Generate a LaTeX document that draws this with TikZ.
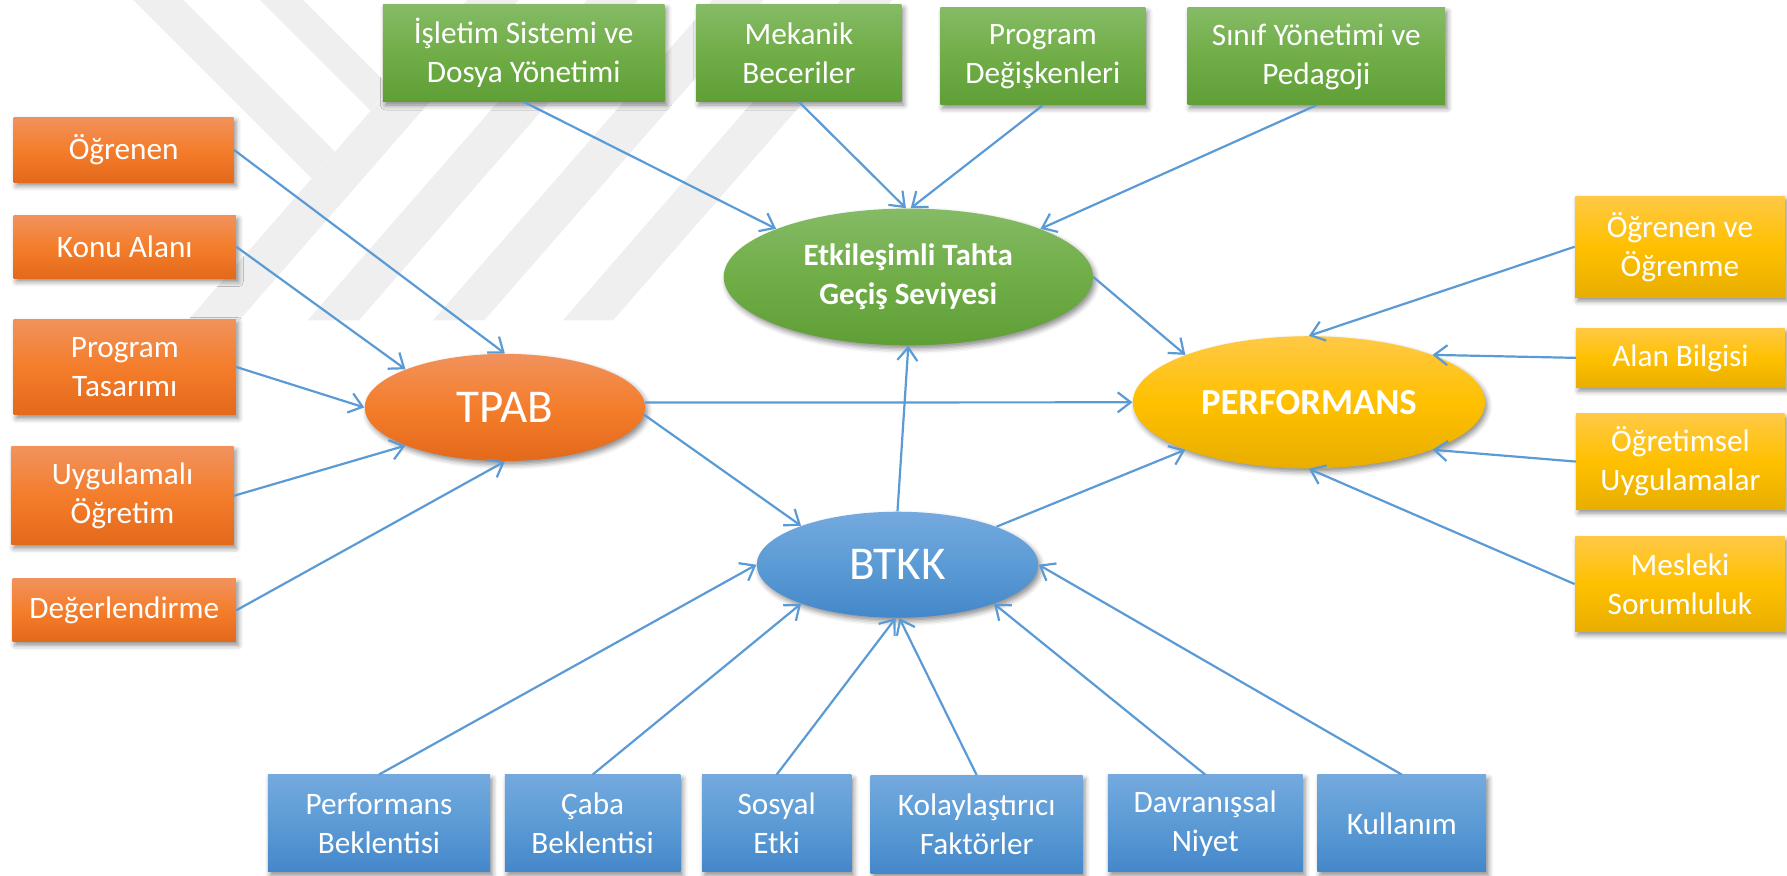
\documentclass[tikz,border=0pt]{standalone}
\usepackage{fontspec}
\setmainfont{Carlito}
\usetikzlibrary{shapes.geometric,arrows.meta,shadows.blur}

% box and ellipse fills (light top, saturated middle, darker bottom)
\definecolor{orA}{HTML}{F1925C}
\definecolor{orB}{HTML}{F47D2B}
\definecolor{orC}{HTML}{E3691B}
\definecolor{grA}{HTML}{85BB66}
\definecolor{grB}{HTML}{70AD47}
\definecolor{grC}{HTML}{5F9F36}
\definecolor{blA}{HTML}{74A9DE}
\definecolor{blB}{HTML}{5B9BD5}
\definecolor{blC}{HTML}{4487CA}
\definecolor{yeA}{HTML}{FFC945}
\definecolor{yeB}{HTML}{FFC000}
\definecolor{yeC}{HTML}{E8AE00}
\definecolor{linkblue}{HTML}{5B9BD5}
\definecolor{stripegray}{HTML}{EFEFEF}

\tikzset{
  softshadow/.style={blur shadow={shadow xshift=1.2pt, shadow yshift=-1.8pt,
      shadow blur radius=2.5pt, shadow opacity=45}},
  box/.style={rectangle, inner sep=2pt, align=center, text=white,
      font=\fontsize{15.6}{19.5}\selectfont, softshadow},
  obox/.style={box, top color=orA, bottom color=orC, middle color=orB},
  gbox/.style={box, top color=grA, bottom color=grC, middle color=grB},
  bbox/.style={box, top color=blA, bottom color=blC, middle color=blB},
  ybox/.style={box, top color=yeA, bottom color=yeC, middle color=yeB},
  hub/.style={ellipse, inner sep=0pt, align=center, text=white, softshadow},
  link/.style={draw=linkblue, line width=1.1pt,
      -{Straight Barb[length=6.5pt,width=10pt]}},
  stripe/.style={fill=stripegray},
}

\begin{document}
\begin{tikzpicture}[x=0.02cm, y=-0.02cm]
\useasboundingbox (0,0) rectangle (1568,768);

% faint background logo stripes
\fill[stripe] (165,281) -- (210,281) -- (455,0) -- (410,0) -- cycle;
\fill[stripe] (270,281) -- (315,281) -- (560,0) -- (515,0) -- cycle;
\fill[stripe] (380,281) -- (425,281) -- (670,0) -- (625,0) -- cycle;
\fill[stripe] (494,281) -- (538,281) -- (783,0) -- (738,0) -- cycle;
\fill[stripe] (117,0) -- (161,0) -- (293.9,132.9) -- (273.4,156.4) -- cycle;
\fill[stripe] (228,0) -- (266,0) -- (342.7,76.7) -- (325,97) -- cycle;

% left column
\node[obox, minimum width=3.86cm, minimum height=1.14cm] (ogr)  at (108.5,131.5) {Öğrenen};
\node[obox, minimum width=3.90cm, minimum height=1.10cm] (konu) at (109.5,216.5) {Konu Alanı};
\node[obox, minimum width=3.90cm, minimum height=1.68cm] (prog) at (109.5,322) {Program\\Tasarımı};
\node[obox, minimum width=3.90cm, minimum height=1.72cm] (uyg)  at (107.5,435) {Uygulamalı\\Öğretim};
\node[obox, minimum width=3.92cm, minimum height=1.10cm] (deg)  at (109,535.5) {Değerlendirme};

% top row
\node[gbox, minimum width=4.94cm, minimum height=1.70cm] (isl)   at (459.5,46.5) {İşletim Sistemi ve\\Dosya Yönetimi};
\node[gbox, minimum width=3.60cm, minimum height=1.70cm] (mek)   at (701,46.5) {Mekanik\\Beceriler};
\node[gbox, minimum width=3.60cm, minimum height=1.70cm] (pdeg)  at (915,49.5) {Program\\Değişkenleri};
\node[gbox, minimum width=4.52cm, minimum height=1.70cm] (sinif) at (1155,49.5) {Sınıf Yönetimi ve\\Pedagoji};

% right column
\node[ybox, minimum width=3.68cm, minimum height=1.78cm] (ogrv) at (1474,216.5) {Öğrenen ve\\Öğrenme};
\node[ybox, minimum width=3.66cm, minimum height=1.04cm] (alan) at (1474.5,314) {Alan Bilgisi};
\node[ybox, minimum width=3.66cm, minimum height=1.68cm] (ogrt) at (1474.5,405) {Öğretimsel\\Uygulamalar};
\node[ybox, minimum width=3.68cm, minimum height=1.66cm] (mes)  at (1474,512.5) {Mesleki\\Sorumluluk};

% bottom row
\node[bbox, minimum width=3.90cm, minimum height=1.70cm] (perfb)  at (332.5,722.5) {Performans\\Beklentisi};
\node[bbox, minimum width=3.08cm, minimum height=1.70cm] (caba)   at (520,722.5) {Çaba\\Beklentisi};
\node[bbox, minimum width=2.62cm, minimum height=1.70cm] (sosyal) at (681.5,722.5) {Sosyal\\Etki};
\node[bbox, minimum width=3.72cm, minimum height=1.72cm] (kolay)  at (857,723.5) {Kolaylaştırıcı\\Faktörler};
\node[bbox, minimum width=3.42cm, minimum height=1.70cm] (davr)   at (1057.5,722.5) {Davranışsal\\Niyet};
\node[bbox, minimum width=2.96cm, minimum height=1.70cm] (kull)   at (1230,722.5) {Kullanım};

% central constructs
\node[hub, top color=grA, bottom color=grC, middle color=grB,
      minimum width=6.48cm, minimum height=2.40cm,
      font=\bfseries\fontsize{15.5}{19.5}\selectfont] (etk) at (797,243) {Etkileşimli Tahta\\Geçiş Seviyesi};
\node[hub, top color=orA, bottom color=orC, middle color=orB,
      minimum width=4.92cm, minimum height=1.88cm,
      font=\fontsize{23.5}{26}\selectfont] (tpab) at (443,357.5) {TPAB};
\node[hub, top color=yeA, bottom color=yeC, middle color=yeB,
      minimum width=6.18cm, minimum height=2.32cm,
      font=\bfseries\fontsize{18.3}{21}\selectfont] (perf) at (1148.5,353) {PERFORMANS};
\node[hub, top color=blA, bottom color=blC, middle color=blB,
      minimum width=4.94cm, minimum height=1.86cm,
      font=\fontsize{23.5}{26}\selectfont] (btkk) at (787.5,495.5) {BTKK};

% inputs to TPAB
\draw[link] (ogr.east)  -- (tpab.north);
\draw[link] (konu.east) -- (tpab.159);
\draw[link] (prog.east) -- (tpab.west);
\draw[link] (uyg.east)  -- (tpab.201);
\draw[link] (deg.east)  -- (tpab.south);

% links between the constructs
\draw[link] (tpab.2)     -- (perf.west);
\draw[link] (tpab.-3)    -- (btkk.158);
\draw[link] (btkk.north) -- (etk.south);
\draw[link] (btkk.21)    -- (perf.201);
\draw[link] (etk.east)   -- (perf.159);

% inputs to the transition level
\draw[link] (isl.south)   -- (etk.160);
\draw[link] (mek.south)   -- (etk.92);
\draw[link] (pdeg.south)  -- (etk.88);
\draw[link] (sinif.south) -- (etk.20);

% inputs to PERFORMANS
\draw[link] (ogrv.west) -- (perf.north);
\draw[link] (alan.west) -- (perf.21);
\draw[link] (ogrt.west) -- (perf.339);
\draw[link] (mes.west)  -- (perf.south);

% inputs to BTKK
\draw[link] (perfb.north)  -- (btkk.west);
\draw[link] (caba.north)   -- (btkk.202);
\draw[link] (sosyal.north) -- (btkk.268);
\draw[link] (kolay.north)  -- (btkk.272);
\draw[link] (davr.north)   -- (btkk.338);
\draw[link] (kull.north)   -- (btkk.east);
\end{tikzpicture}
\end{document}
